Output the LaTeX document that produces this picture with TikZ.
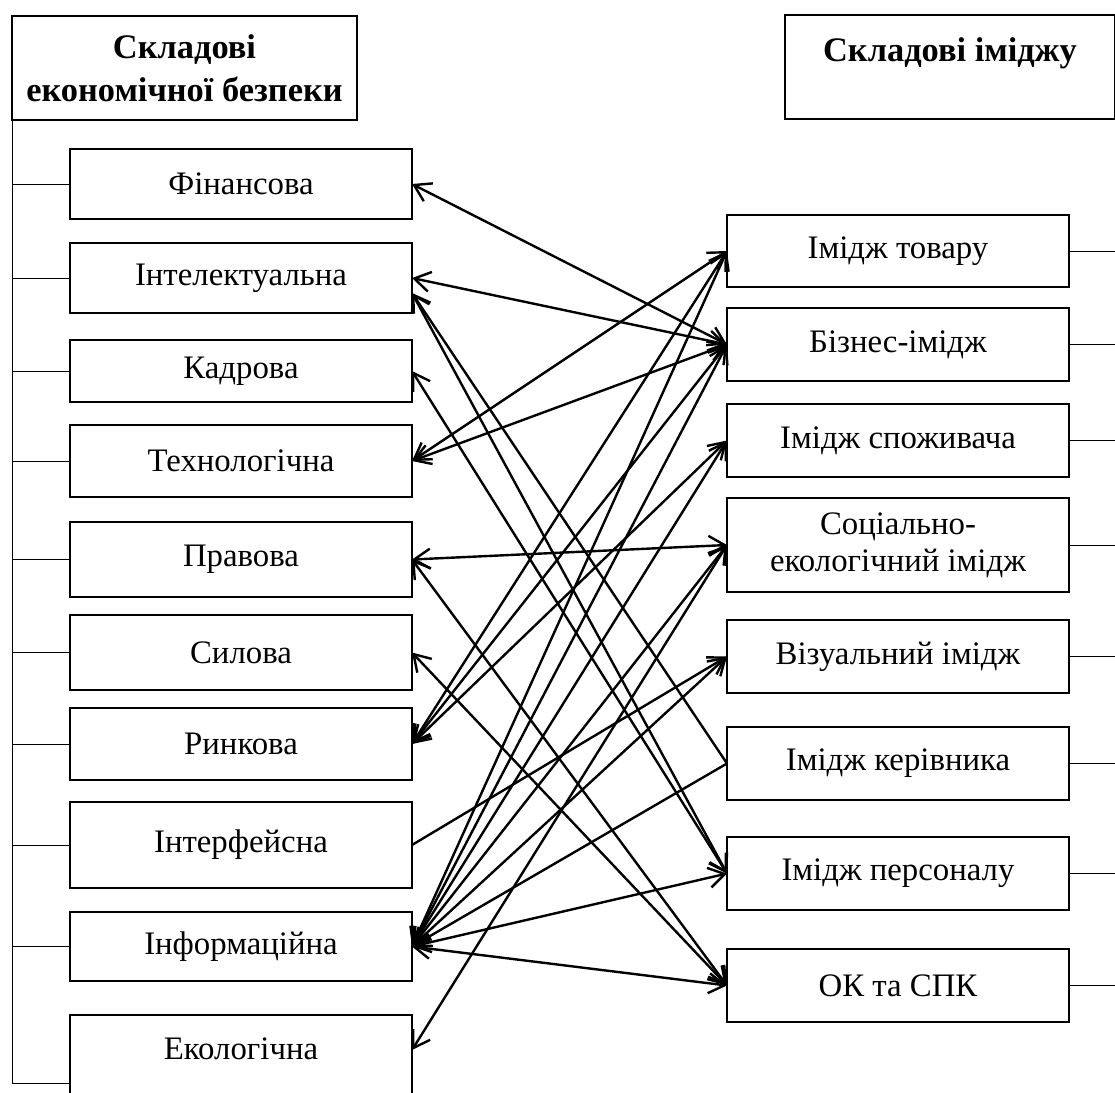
\documentclass[tikz,border=0pt]{standalone}
\usepackage{fontspec}
\setmainfont{Liberation Serif}
\usetikzlibrary{arrows.meta,positioning,calc}

\begin{document}
\begin{tikzpicture}[
    x=0.5pt, y=-0.5pt,
    node distance=12pt,
    font=\fontsize{16.4}{18.5}\selectfont,
    head/.style={draw, line width=1.3pt, outer sep=0pt, minimum width=172.5pt, minimum height=52pt, align=center, font=\fontsize{17.2}{21.5}\selectfont\bfseries},
    comp/.style={draw, line width=1.3pt, outer sep=0pt, minimum width=171pt, minimum height=35pt, align=center},
    img/.style={draw, line width=1.3pt, outer sep=0pt, minimum width=171pt, minimum height=36.5pt, align=center},
    branch/.style={line width=0.5pt},
    link/.style={{Straight Barb[length=8pt,width=10pt]}-{Straight Barb[length=8pt,width=10pt]}, line width=1.2pt},
    flow/.style={-{Straight Barb[length=8pt,width=10pt]}, line width=1.2pt}
]
\clip (0,0) rectangle (1115,1093);

% headers
\node[head] (hl) at (184.5,68) {Складові\\економічної безпеки};
\node[head, minimum width=165pt, text height=19.7pt, text depth=25.6pt] (hr) at (950,67) {Складові іміджу};

% left column
\node[comp, anchor=north] (fin) at (241,149) {Фінансова};
\node[comp, below=of fin] (int) {Інтелектуальна};
\node[comp, below=13.5pt of int, minimum height=31pt] (kad) {Кадрова};
\node[comp, below=11.5pt of kad, minimum height=36pt] (tech) {Технологічна};
\node[comp, below=12.5pt of tech, minimum height=37.5pt] (prav) {Правова};
\node[comp, below=9pt of prav, minimum height=37.5pt] (syl) {Силова};
\node[comp, below=9pt of syl, minimum height=36pt] (ryn) {Ринкова};
\node[comp, below=11pt of ryn, minimum height=43pt] (intf) {Інтерфейсна};
\node[comp, below=of intf, minimum height=34.5pt] (infm) {Інформаційна};
\node[comp, below=17pt of infm, minimum height=68pt, text height=19pt, text depth=42.3pt] (ekol) {Екологічна};

% right column
\node[img, anchor=north, minimum height=36pt] (tov) at (898,215) {Імідж товару};
\node[img, below=10.5pt of tov] (biz) {Бізнес-імідж};
\node[img, below=11.5pt of biz] (spoz) {Імідж споживача};
\node[img, below=10.5pt of spoz, minimum height=47pt] (soc) {Соціально-\\екологічний імідж};
\node[img, below=14pt of soc] (viz) {Візуальний імідж};
\node[img, below=17pt of viz] (ker) {Імідж керівника};
\node[img, below=18.5pt of ker] (pers) {Імідж персоналу};
\node[img, below=19.5pt of pers] (ok) {ОК та СПК};

% side rails
\draw[branch] (hl.south west) |- (ekol.west);
\foreach \n in {fin,int,kad,tech,prav,syl,ryn,intf,infm}
    \draw[branch] (\n.west) -- (\n.west -| hl.west);
\foreach \n in {tov,biz,spoz,soc,viz,ker,pers,ok}
    \draw[branch] (\n.east) -- ++(60,0);

\coordinate (intlow) at ($(int.east)+(0,15)$);
\coordinate (ekolpt) at ($(ekol.north east)+(0,35)$);

% links
\draw[link] (fin.east) -- (biz.west);
\draw[link] (int.east) -- (biz.west);
\draw[link] (intlow) -- (pers.west);
\draw[flow] (ker.west) -- (intlow);
\draw[link] (kad.east) -- (pers.west);
\draw[link] (tech.east) -- (tov.west);
\draw[link] (tech.east) -- (biz.west);
\draw[link] (prav.east) -- (soc.west);
\draw[link] (prav.east) -- (ok.west);
\draw[link] (syl.east) -- (ok.west);
\foreach \n in {tov,biz,spoz}
    \draw[link] (ryn.east) -- (\n.west);
\draw[flow] (intf.east) -- (viz.west);
\foreach \n in {tov,biz,spoz,soc,viz,pers,ok}
    \draw[link] (infm.east) -- (\n.west);
\draw[flow] (ker.west) -- (infm.east);
\draw[link] (ekolpt) -- (soc.west);
\end{tikzpicture}
\end{document}
